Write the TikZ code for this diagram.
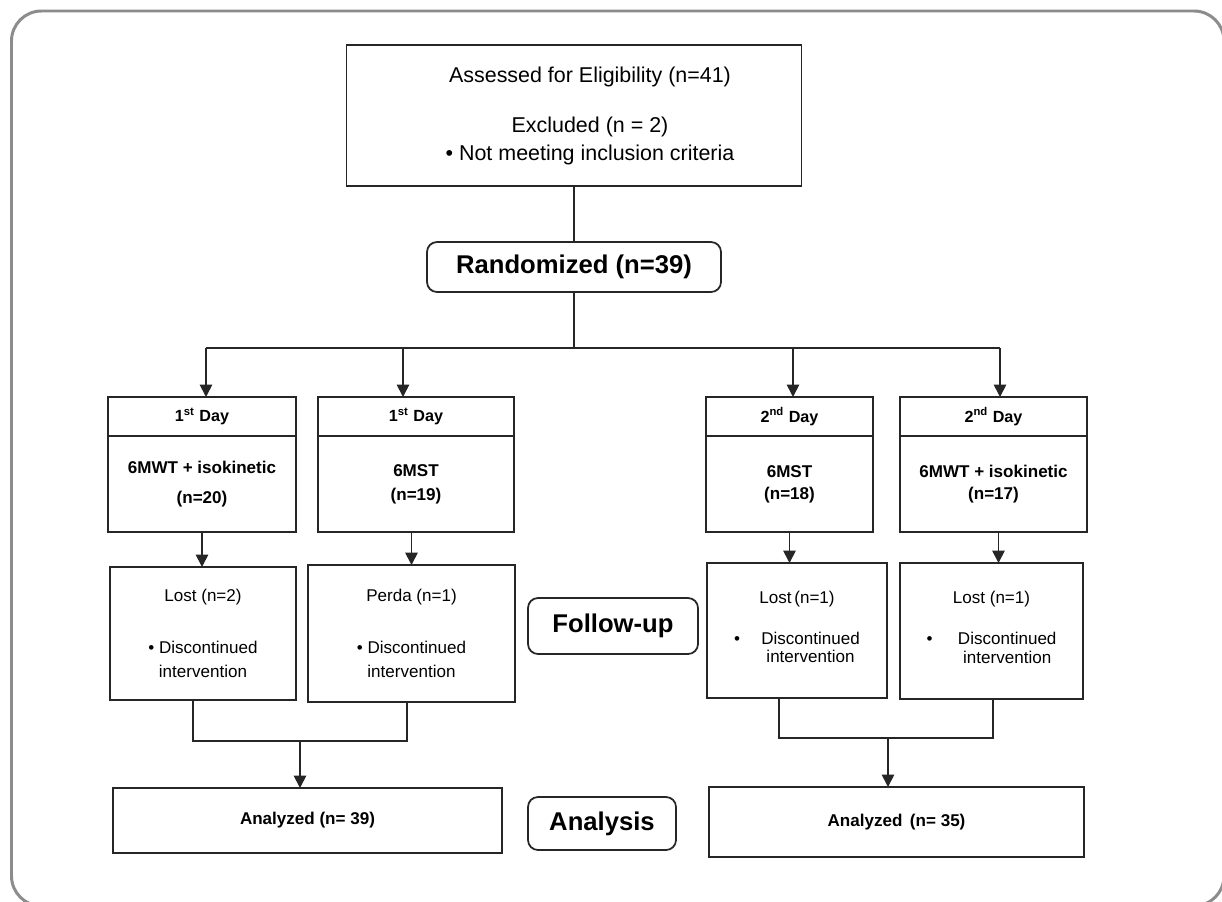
\documentclass[tikz,border=0pt]{standalone}
\usepackage{fontspec}
\setmainfont{Liberation Sans}
\usetikzlibrary{positioning,arrows.meta,calc}

\tikzstyle{arrow} = [line width=1pt,draw=black!85,->,>={Triangle[length=7pt,width=7pt]}]
\tikzstyle{link} = [line width=1pt,draw=black!85]
\tikzstyle{plainbox} = [
        rectangle,
        draw=black!85,
        line width=1pt,
        inner sep=0pt,
        outer sep=0pt,
        align=center
    ]
\tikzstyle{stage} = [
        plainbox,
        rounded corners=0.2cm,
        font=\fontsize{14.6}{17}\selectfont\bfseries
    ]
\tikzstyle{dayhead} = [
        plainbox,
        minimum height=0.78cm,
        font=\fontsize{9.2}{11}\selectfont\bfseries
    ]
\tikzstyle{daybody} = [
        plainbox,
        minimum height=1.92cm,
        font=\fontsize{9.7}{12.5}\selectfont\bfseries
    ]
\tikzstyle{lost} = [plainbox, font=\fontsize{9.7}{13.6}\selectfont]
\tikzstyle{analyzed} = [plainbox, font=\fontsize{9.7}{12}\selectfont\bfseries]

\newcommand{\dropout}[1]{\begin{tabular}[t]{@{}c@{\hspace{#1}}c@{}}\textbullet & Discontinued\\[-3pt] & intervention\end{tabular}}

\begin{document}
\begin{tikzpicture}[node distance=2cm]
    \useasboundingbox (0,0) rectangle (24.44,-18.04);
    \clip (0,0) rectangle (24.44,-18.04);
    \draw [draw=black!45, line width=1.7pt, rounded corners=0.6cm] (0.23,-0.22) rectangle (24.48,-18.12);

    % enrolment
    \node [plainbox, minimum width=9.1cm, minimum height=2.82cm, font=\fontsize{12.2}{15.9}\selectfont] (elig) at (11.48,-2.31)
        {\begin{tabular}{@{\hspace{0.64cm}}c@{}}Assessed for Eligibility (n=41)\\[12.5pt]Excluded (n = 2)\\\textbullet{} Not meeting inclusion criteria\end{tabular}};
    \node [stage, minimum width=5.88cm, minimum height=1cm, below of=elig, yshift=-1.03cm] (rand) {Randomized (n=39)};
    \coordinate [below of=rand, yshift=0.38cm] (split);
    \draw [link] (elig) -- (rand);
    \draw [link] (rand) -- (split);

    % allocation
    \node [dayhead, minimum width=3.76cm] (d1h) at (4.04,-8.33) {1\textsuperscript{st} Day};
    \node [dayhead, minimum width=3.92cm, right of=d1h, xshift=2.28cm] (d2h) {1\textsuperscript{st} Day};
    \node [dayhead, minimum width=3.34cm, right of=d2h, xshift=5.47cm] (d3h) {2\textsuperscript{nd} Day};
    \node [dayhead, minimum width=3.74cm, right of=d3h, xshift=2.08cm] (d4h) {2\textsuperscript{nd} Day};
    \node [daybody, minimum width=3.76cm, below=0pt of d1h] (d1b) {6MWT + isokinetic\\[4.5pt](n=20)};
    \node [daybody, minimum width=3.92cm, below=0pt of d2h] (d2b) {6MST\\[1pt](n=19)};
    \node [daybody, minimum width=3.34cm, below=0pt of d3h] (d3b) {6MST\\(n=18)};
    \node [daybody, minimum width=3.74cm, below=0pt of d4h] (d4b) {6MWT + isokinetic\\(n=17)};
    \draw [link] ($(split -| d1h)+(0.08,0)$) -- ($(split -| d4h)+(0.13,0)$);
    \foreach \d/\s in {d1h/0.08,d2h/-0.26,d3h/0.07,d4h/0.13}
        \draw [arrow] ($(split -| \d)+(\s,0)$) -- ($(\d.north)+(\s,0)$);

    % follow-up
    \node [lost, minimum width=3.72cm, minimum height=2.66cm] (l1) at (4.06,-12.67)
        {Lost (n=2)\\[16pt]\textbullet{} Discontinued\\intervention};
    \node [lost, minimum width=4.14cm, minimum height=2.74cm] (l2) at (8.23,-12.67)
        {Perda (n=1)\\[16pt]\textbullet{} Discontinued\\intervention};
    \node [lost, minimum width=3.6cm, minimum height=2.7cm] (l3) at (15.94,-12.61)
        {Lost\,(n=1)\\[9.6pt]\dropout{12pt}};
    \node [lost, minimum width=3.66cm, minimum height=2.72cm] (l4) at (19.83,-12.62)
        {Lost (n=1)\\[9.6pt]\dropout{14.5pt}};
    \node [stage, minimum width=3.4cm, minimum height=1.12cm] (follow) at (12.26,-12.52) {Follow-up};
    \draw [arrow] (d1b.south) -- (d1b.south |- l1.north);
    \draw [arrow] (l2.north |- d2b.south) -- (l2.north);
    \draw [arrow] (d3b.south) -- (d3b.south |- l3.north);
    \draw [arrow] ($(d4b.south)+(0.1,0)$) -- ($(d4b.south |- l4.north)+(0.1,0)$);

    % analysis
    \node [analyzed, minimum width=7.78cm, minimum height=1.3cm] (a1) at (6.15,-16.41) {Analyzed (n= 39)};
    \node [analyzed, minimum width=7.5cm, minimum height=1.4cm] (a2) at (17.93,-16.44) {Analyzed\, (n= 35)};
    \node [stage, minimum width=2.96cm, minimum height=1.06cm] (analysis) at (12.04,-16.47) {Analysis};
    \coordinate (jl) at (6.0,-14.82);
    \coordinate (jr) at (17.76,-14.76);
    \draw [link] ([xshift=-0.2cm]l1.south) |- (jl) -| ([xshift=-0.09cm]l2.south);
    \draw [link] ([xshift=-0.36cm]l3.south) |- (jr) -| ([xshift=0.03cm]l4.south);
    \draw [arrow] (jl) -- (jl |- a1.north);
    \draw [arrow] (jr) -- (jr |- a2.north);
\end{tikzpicture}
\end{document}
